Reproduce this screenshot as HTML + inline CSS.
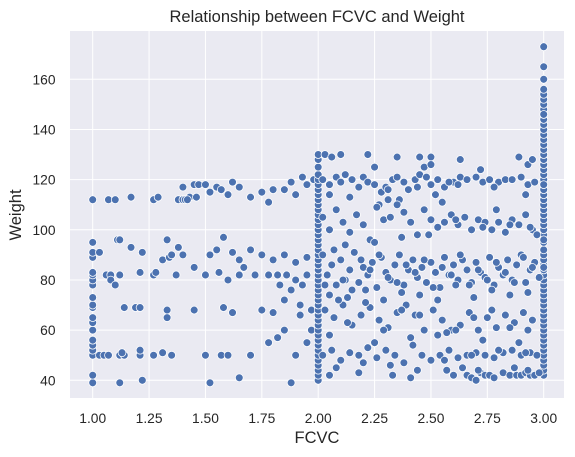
<!DOCTYPE html>
<html><head><meta charset="utf-8"><style>
html,body{margin:0;padding:0;background:#fff;}
svg{display:block;font-family:"Liberation Sans","DejaVu Sans",sans-serif;}
</style></head><body>
<svg id="chart" width="575" height="457" viewBox="0 0 575 457" xmlns="http://www.w3.org/2000/svg">
<rect x="70" y="31" width="494" height="367" fill="#eaeaf2"/>
<g id="grid"></g>
<g id="points"></g>
<g id="ticks"></g>
<text x="317" y="22" text-anchor="middle" font-size="16.5" fill="#262626">Relationship between FCVC and Weight</text>
<text x="317" y="443" text-anchor="middle" font-size="16.5" fill="#262626">FCVC</text>
<text x="21" y="215" text-anchor="middle" font-size="16.5" fill="#262626" transform="rotate(-90 21 215)">Weight</text>
</svg>
<script>
const xTicks=[1.00,1.25,1.50,1.75,2.00,2.25,2.50,2.75,3.00];
const yTicks=[40,60,80,100,120,140,160];
const lowFcvc=[1,1,1,1,1,1,1,1,1,1,1,1,1,1,1,1,1,1,1,1,1.03,1.05,1.07,1.12,1.14,1.13,1.21,1.21,1.27,1.31,1.35,1.12,1.22,1.03,1.06,1.08,1.08,1.10,1.12,1.11,1.12,1.17,1.22,1.21,1.27,1.28,1.33,1.31,1.34,1.35,1.37,1.38,1.14,1.19,1.21,1.33,1.33,1.07,1.10,1.17,1.27,1.29,1.38,1.40,1.41,1.43,1.40,1.45,1.47,1.46,1.42,1.45,1.45];
const lowWeight=[39,42,50,52,54,56,60,63,65,69,70,73,78,80,82,83,89,91,95,112,50,50,50,50,50,51,50,52,50,51,50,39,40,91,82,82,80,78,82,96,96,93,91,83,82,83,96,88,89,90,82,93,69,69,69,68,65,112,112,113,112,113,112,112,112,113,117,118,118,113,112,68,85];
const midFcvc=[1.50,1.52,1.55,1.57,1.60,1.62,1.65,1.70,1.75,1.78,1.80,1.85,1.88,1.90,1.93,1.95,1.98,1.55,1.52,1.58,1.62,1.65,1.70,1.75,1.80,1.85,1.90,1.95,1.50,1.56,1.60,1.65,1.72,1.78,1.82,1.86,1.90,1.95,1.58,1.62,1.75,1.80,1.85,1.92,1.97,1.50,1.57,1.60,1.65,1.70,1.78,1.82,1.85,1.88,1.90,1.95,1.52,1.40,1.67,1.83,1.93,1.97,1.88,1.92];
const midWeight=[118,115,117,116,114,119,117,113,115,111,116,116,119,114,121,118,120,92,90,97,91,88,92,90,88,90,87,89,82,83,80,82,82,82,82,82,80,82,69,67,68,67,72,70,68,50,50,50,41,50,55,57,60,39,50,55,39,90,85,78,78,60,76,66];
const col2Fcvc=[2,2,2,2,2,2,2,2,2,2,2,2,2,2,2,2,2,2,2,2,2,2,2,2,2,2,2,2,2,2,2,2,2,2,2,2,2,2,2,2,2,2,2,2,2,2.03,2.06,2.1,2.22,2.35,2.45,2.5,2.63,2.72,2.89,2.93,2.95,2.47,2.5,2.25];
const col2Weight=[40,42,44,46,48,50,52,54,56,58,60,62,64,66,68,70,72,74,76,78,80,82,84,86,88,90,92,94,96,98,100,102,104,106,108,110,112,114,116,118,120,122,125,128,130,130,129,130,130,129,129,129,128,124,129,126,128,125,126,125];
const col3Fcvc=[3,3,3,3,3,3,3,3,3,3,3,3,3,3,3,3,3,3,3,3,3,3,3,3,3,3,3,3,3,3,3,3,3,3,3,3,3,3,3,3,3,3,3,3,3,3,3,3,3,3,3,3,3,3,3,3,3,3,3,3,3,3,3,3];
const col3Weight=[42,44,46,48,50,52,54,56,58,60,62,64,66,68,70,72,74,76,78,80,82,84,86,88,90,92,95,98,100,102,104,106,108,110,112,114,116,118,120,122,124,126,128,130,132,134,136,138,140,142,144,146,148,150,152,154,156,160,165,173,146,118,96,85];
const band120Fcvc=[2.02,2.05,2.08,2.10,2.12,2.15,2.18,2.20,2.22,2.25,2.28,2.30,2.33,2.35,2.38,2.40,2.43,2.45,2.48,2.50,2.53,2.56,2.60,2.63,2.66,2.70,2.73,2.76,2.80,2.83,2.90,2.93,2.96,2.14,2.27,2.36,2.52,2.62,2.78,2.92,2.05,2.31,2.44,2.58,2.86];
const band120Weight=[120,118,121,119,122,120,117,121,119,118,115,117,120,121,119,116,120,122,121,118,120,117,119,121,120,121,119,120,119,120,121,118,119,113,110,112,114,118,117,114,114,116,117,119,120];
const band103Fcvc=[2.02,2.05,2.08,2.11,2.14,2.17,2.20,2.23,2.26,2.29,2.32,2.35,2.38,2.41,2.44,2.47,2.50,2.53,2.56,2.59,2.62,2.65,2.68,2.71,2.74,2.77,2.80,2.83,2.86,2.89,2.92,2.95,2.97,2.12,2.25,2.37,2.49,2.61,2.73,2.85,2.94,2.31,2.55,2.79];
const band103Weight=[105,100,108,103,99,106,102,96,109,104,105,110,107,103,98,108,104,101,103,106,102,105,100,104,103,100,103,99,104,102,106,100,98,94,95,97,98,104,101,102,101,112,111,108];
const band85Fcvc=[2.02,2.04,2.06,2.08,2.10,2.12,2.14,2.16,2.18,2.20,2.22,2.24,2.26,2.28,2.30,2.32,2.34,2.36,2.38,2.40,2.42,2.44,2.46,2.48,2.50,2.52,2.54,2.56,2.58,2.60,2.62,2.64,2.66,2.68,2.70,2.72,2.74,2.76,2.78,2.80,2.82,2.84,2.86,2.88,2.90,2.92,2.94,2.96,2.98,2.03,2.07,2.11,2.15,2.19,2.23,2.27,2.31,2.35,2.39,2.43,2.47,2.51,2.55,2.59,2.63,2.67,2.71,2.75,2.79,2.83,2.87,2.91,2.95,2.05,2.13,2.21,2.29,2.37,2.45,2.53,2.61,2.69,2.77,2.85,2.93];
const band85Weight=[90,82,86,78,88,80,84,91,79,85,82,87,77,89,83,80,86,90,78,84,88,81,85,79,87,83,77,89,82,86,80,88,84,79,87,83,81,89,78,85,82,88,80,86,90,79,84,87,81,78,92,80,76,88,84,90,81,79,86,83,88,77,85,82,90,78,84,80,87,83,79,89,85,74,73,76,72,75,74,72,78,73,76,74,75];
const band65Fcvc=[2.03,2.07,2.11,2.15,2.19,2.23,2.27,2.31,2.35,2.39,2.43,2.47,2.51,2.55,2.59,2.63,2.67,2.71,2.75,2.79,2.83,2.87,2.91,2.95,2.05,2.13,2.21,2.29,2.37,2.45,2.53,2.61,2.69,2.77,2.85,2.93,2.09,2.25,2.41,2.57,2.73,2.89];
const band65Weight=[68,65,70,62,66,69,64,61,67,70,66,60,68,64,60,62,67,60,65,61,66,63,67,64,58,63,71,60,68,66,58,60,65,68,61,60,72,55,57,59,56,55];
const band50Fcvc=[2.02,2.06,2.10,2.14,2.18,2.22,2.26,2.30,2.34,2.38,2.42,2.46,2.50,2.54,2.58,2.62,2.66,2.70,2.74,2.78,2.82,2.86,2.90,2.94,2.97,2.08,2.20,2.32,2.44,2.56,2.68,2.80,2.92];
const band50Weight=[50,52,48,51,50,53,49,52,50,47,54,50,48,50,52,49,50,51,50,49,51,52,50,51,50,45,47,46,44,48,50,52,51];
const band42Fcvc=[2.05,2.18,2.33,2.41,2.57,2.60,2.66,2.68,2.70,2.72,2.74,2.76,2.78,2.82,2.85,2.88,2.90,2.92,2.94,2.96,2.98,2.64,2.71,2.87,2.93];
const band42Weight=[42,43,42,41,44,42,42,41,40,43,42,42,41,43,42,42,42,43,42,42,43,45,44,45,44];

const allFcvc=[].concat(lowFcvc,midFcvc,col2Fcvc,col3Fcvc,band120Fcvc,band103Fcvc,band85Fcvc,band65Fcvc,band50Fcvc,band42Fcvc);
const allWeight=[].concat(lowWeight,midWeight,col2Weight,col3Weight,band120Weight,band103Weight,band85Weight,band65Weight,band50Weight,band42Weight);

const NS="http://www.w3.org/2000/svg";
const L=70,R=564,T=31,B=398;
function xScale(v){return 92.7+(v-1)*225.5;}
function yScale(v){return 380.3-(v-40)*2.5083;}
const grid=document.getElementById('grid');
const ticks=document.getElementById('ticks');
const pts=document.getElementById('points');
xTicks.forEach(t=>{
  const x=xScale(t);
  const ln=document.createElementNS(NS,'line');
  
  
  ln.setAttribute('x1',x);ln.setAttribute('x2',x);ln.setAttribute('y1',T);ln.setAttribute('y2',B);
  ln.setAttribute('stroke','#fff');ln.setAttribute('stroke-width','1');
  grid.appendChild(ln);
  const tx=document.createElementNS(NS,'text');
  
  
  tx.setAttribute('x',x);tx.setAttribute('y',B+25);
  tx.setAttribute('text-anchor','middle');tx.setAttribute('font-size','13.8');tx.setAttribute('fill','#262626');
  tx.textContent=t.toFixed(2);
  ticks.appendChild(tx);
});
yTicks.forEach(t=>{
  const y=yScale(t);
  const ln=document.createElementNS(NS,'line');
  
  
  ln.setAttribute('x1',L);ln.setAttribute('x2',R);ln.setAttribute('y1',y);ln.setAttribute('y2',y);
  ln.setAttribute('stroke','#fff');ln.setAttribute('stroke-width','1');
  grid.appendChild(ln);
  const tx=document.createElementNS(NS,'text');
  
  
  tx.setAttribute('x',55.5);tx.setAttribute('y',y+5);
  tx.setAttribute('text-anchor','end');tx.setAttribute('font-size','13.8');tx.setAttribute('fill','#262626');
  tx.textContent=t;
  ticks.appendChild(tx);
});
for(let i=0;i<allFcvc.length;i++){
  const c=document.createElementNS(NS,'circle');
  
  
  c.setAttribute('cx',xScale(allFcvc[i]));c.setAttribute('cy',yScale(allWeight[i]));
  c.setAttribute('r','3.9');c.setAttribute('fill','#4c72b0');
  c.setAttribute('stroke','#fff');c.setAttribute('stroke-width','0.75');
  pts.appendChild(c);
}
</script>
</body></html>
